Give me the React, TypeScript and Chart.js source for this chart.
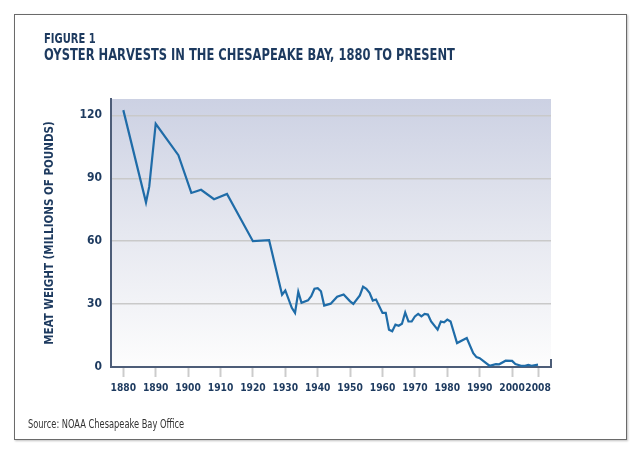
import React, { useEffect, useRef } from "react";
import { Chart, registerables } from "chart.js";

Chart.register(...registerables);

const years: number[] = [
  1880, 1887, 1888, 1890, 1897, 1901, 1904, 1908, 1912, 1920, 1925,
  1929, 1930, 1932, 1933, 1934, 1935, 1937, 1938, 1939, 1940, 1941, 1942, 1944,
  1946, 1948, 1950, 1951, 1953, 1954, 1955, 1956, 1957, 1958, 1960, 1961, 1962,
  1963, 1964, 1965, 1966, 1967, 1968, 1969, 1970, 1971, 1972, 1973, 1974, 1975,
  1977, 1978, 1979, 1980, 1981, 1983, 1986, 1988, 1989, 1990, 1993, 1995, 1996,
  1998, 2000, 2001, 2003, 2004, 2005, 2006, 2008,
];
const harvest: number[] = [
  122.5, 78.5, 86, 116, 101, 83, 84.5, 80, 82.5, 60, 60.5,
  34.5, 36.5, 28.2, 25.8, 35.9, 30.6, 31.8, 33.8, 37.3, 37.6, 36.1, 29.3, 30.2,
  33.5, 34.6, 31.3, 30.1, 34.1, 38.3, 37.3, 35.4, 31.7, 32.2, 25.8, 25.8, 17.8,
  17, 20.2, 19.7, 20.6, 26, 21.7, 21.7, 24.1, 25.3, 24.1, 25.3, 25, 21.7,
  17.8, 21.7, 21.3, 22.6, 21.7, 11.4, 13.8, 6.6, 4.7, 4.2, 0.6, 1.4, 1.3,
  3, 2.9, 1.4, 0.5, 0.6, 1, 0.6, 1.1,
];
const xTicks: number[] = [1880, 1890, 1900, 1910, 1920, 1930, 1940, 1950, 1960, 1970, 1980, 1990, 2000, 2008];
const yTicks: number[] = [0, 30, 60, 90, 120];

const NAVY = "#1d3a5f";
const NARROW = '"DejaVu Sans Condensed", "Liberation Sans Narrow", sans-serif';

export default function App() {
  const ref = useRef<HTMLCanvasElement | null>(null);

  useEffect(() => {
    document.body.style.margin = "0";
    const canvas = ref.current;
    if (!canvas) return;

    const bgPlugin = {
      id: "bgGradient",
      beforeDraw(chart: any) {
        const { ctx, chartArea } = chart;
        if (!chartArea) return;
        const g = ctx.createLinearGradient(0, chartArea.top, 0, chartArea.bottom);
        g.addColorStop(0, "#ccd1e3");
        g.addColorStop(0.5, "#e6e8f0");
        g.addColorStop(1, "#fdfdfd");
        ctx.save();
        ctx.fillStyle = g;
        ctx.fillRect(chartArea.left, chartArea.top, chartArea.right - chartArea.left, chartArea.bottom - chartArea.top);
        ctx.restore();
      },
      afterDraw(chart: any) {
        const { ctx, chartArea } = chart;
        ctx.save();
        ctx.strokeStyle = "#4d5d78";
        ctx.lineWidth = 2;
        ctx.beginPath();
        ctx.moveTo(chartArea.right, chartArea.bottom);
        ctx.lineTo(chartArea.right, chartArea.bottom - 8);
        ctx.stroke();
        ctx.restore();
      },
    };

    const chart = new Chart(canvas, {
      type: "line",
      data: {
        datasets: [
          {
            data: years.map((y, i) => ({ x: y, y: harvest[i] })),
            borderColor: "#1f6ca8",
            borderWidth: 2.2,
            pointRadius: 0,
            tension: 0,
            fill: false,
          },
        ],
      },
      options: {
        animation: false,
        responsive: false,
        devicePixelRatio: 1,
        layout: { padding: { left: 0, top: 99, right: 89, bottom: 0 } },
        plugins: {
          legend: { display: false },
          tooltip: { enabled: false },
          title: { display: false },
        },
        scales: {
          x: {
            type: "linear",
            min: 1876.2,
            max: 2012,
            afterBuildTicks: (scale: any) => {
              scale.ticks = xTicks.map((v) => ({ value: v }));
            },
            afterFit: (scale: any) => {
              scale.height = 85;
            },
            ticks: {
              callback: (v: any) => String(v),
              color: NAVY,
              font: { family: NARROW, size: 10.2, weight: "bold" },
              padding: 5,
              maxRotation: 0,
              autoSkip: false,
            },
            grid: {
              drawOnChartArea: false,
              drawTicks: true,
              tickLength: 10,
              tickColor: "#cccccc",
              tickWidth: 2,
            },
            border: { color: "#4d5d78", width: 2 },
          },
          y: {
            min: 0,
            max: 127.8,
            afterBuildTicks: (scale: any) => {
              scale.ticks = yTicks.map((v) => ({ value: v }));
            },
            afterFit: (scale: any) => {
              scale.width = 111;
            },
            ticks: {
              color: NAVY,
              font: { family: NARROW, size: 12, weight: "bold" },
              padding: 9,
            },
            grid: {
              drawTicks: false,
              color: (c: any) => (c.tick && c.tick.value === 0 ? "rgba(0,0,0,0)" : "#c9c9c9"),
              lineWidth: 1.5,
            },
            border: { color: "#4d5d78", width: 2 },
            title: {
              display: true,
              text: "MEAT WEIGHT (MILLIONS OF POUNDS)",
              color: NAVY,
              font: { family: NARROW, size: 11.5, weight: "bold" },
              padding: { top: 43, bottom: 0 },
            },
          },
        },
      },
      plugins: [bgPlugin],
    });

    return () => chart.destroy();
  }, []);

  const narrowText = (scale: number): React.CSSProperties => ({
    position: "absolute",
    fontFamily: NARROW,
    whiteSpace: "nowrap",
    transform: `scaleX(${scale})`,
    transformOrigin: "left top",
  });

  return (
    <div style={{ position: "fixed", left: 0, top: 0, width: 640, height: 452, background: "#fff", overflow: "hidden" }}>
      <div
        style={{
          position: "absolute",
          left: 14,
          top: 14,
          width: 611,
          height: 424,
          border: "1px solid #6a6a6a",
          boxShadow: "1px 1px 2px rgba(0,0,0,0.25)",
        }}
      />
      <canvas ref={ref} width={640} height={452} style={{ position: "absolute", left: 0, top: 0 }} />
      <div
        style={{
          ...narrowText(0.82),
          left: 44,
          top: 31,
          fontWeight: "bold",
          fontSize: 13.5,
          lineHeight: "14px",
          color: NAVY,
        }}
      >
        FIGURE 1
      </div>
      <div
        style={{
          ...narrowText(0.825),
          left: 44,
          top: 47,
          fontWeight: "bold",
          fontSize: 15.5,
          lineHeight: "16px",
          color: NAVY,
        }}
      >
        OYSTER HARVESTS IN THE CHESAPEAKE BAY, 1880 TO PRESENT
      </div>
      <div
        style={{
          ...narrowText(0.8),
          left: 28,
          top: 418,
          fontSize: 11.5,
          lineHeight: "12px",
          color: "#333",
        }}
      >
        Source: NOAA Chesapeake Bay Office
      </div>
    </div>
  );
}
